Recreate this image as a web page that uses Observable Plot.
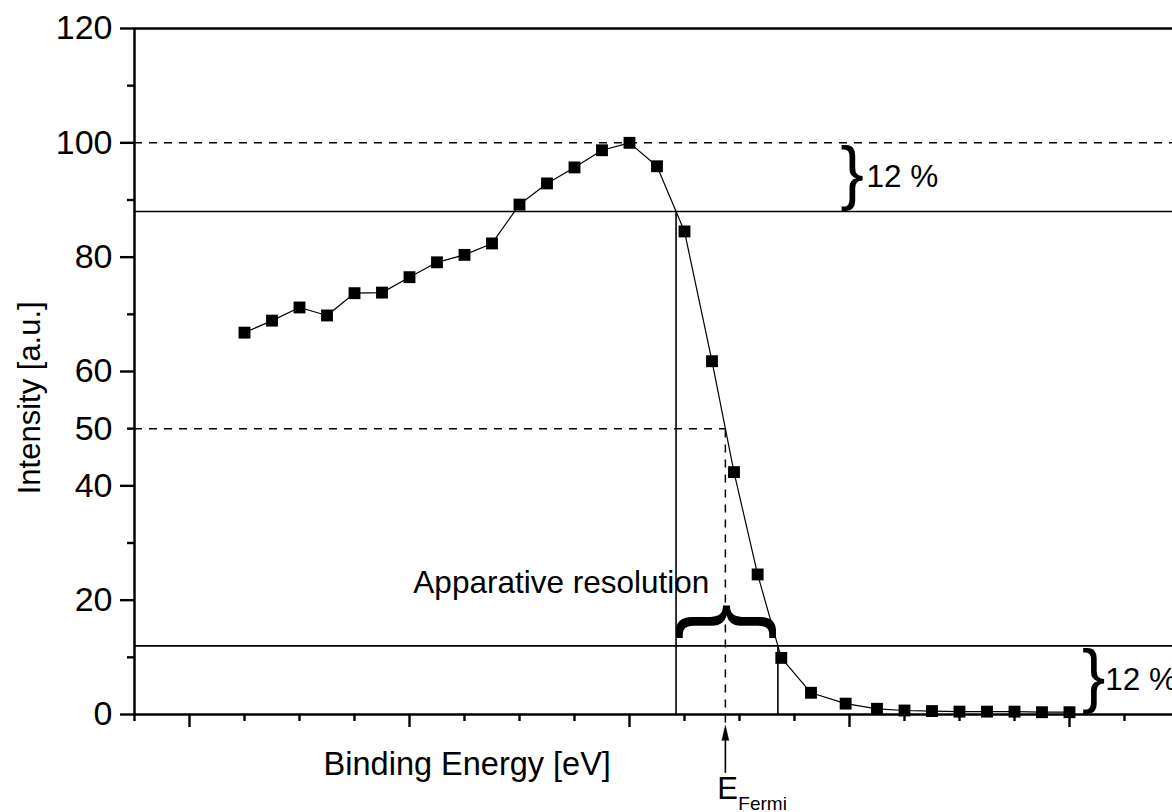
<!DOCTYPE html>
<html>
<head>
<meta charset="utf-8">
<script src="https://cdn.jsdelivr.net/npm/d3@7"></script>
<script src="https://cdn.jsdelivr.net/npm/@observablehq/plot@0.6"></script>
<style>
  html, body { margin: 0; padding: 0; background: #fff; }
  #chart svg { display: block; }
</style>
</head>
<body>
<div id="chart"></div>
<script>
// ---- data ----
const energy = [2, 2.5, 3, 3.5, 4, 4.5, 5, 5.5, 6, 6.5, 7, 7.5, 8, 8.5, 9, 9.5, 10, 10.5, 10.9, 11.33, 11.76, 12.3, 12.93, 13.5, 14, 14.5, 15, 15.5, 16, 16.5, 17];
const intensity = [66.8, 68.9, 71.2, 69.8, 73.7, 73.8, 76.5, 79.1, 80.4, 82.4, 89.2, 92.9, 95.7, 98.7, 100, 95.9, 84.5, 61.8, 42.4, 24.5, 9.9, 3.8, 1.9, 1.0, 0.7, 0.6, 0.5, 0.5, 0.5, 0.4, 0.4];

// ---- axes ----
const yMajorTicks = [0, 20, 40, 60, 80, 100, 120];
const yMinorTicks = [10, 30, 70, 90, 110];
const yExtraLabelTicks = [50];
const xMajorTicks = [1, 5, 9, 13, 17];
const xMinorTicks = [0, 2, 3, 4, 6, 7, 8, 10, 11, 12, 14, 15, 16, 18];
const xDomain = [0, 18.873];
const yDomain = [0, 120];

// ---- annotation levels ----
const peakLevel = 100;
const upperLevel = 88;
const halfLevel = 50;
const lowerLevel = 12;
const percentLabel = "12 %";
const resolutionLabel = "Apparative resolution";
const xTitle = "Binding Energy [eV]";
const yTitle = "Intensity [a.u.]";
const fermiMain = "E";
const fermiSub = "Fermi";

const data = energy.map((e, i) => ({e, v: intensity[i]}));

// crossing of the falling edge with a given level (linear interpolation)
const peakIndex = d3.maxIndex(intensity);
function crossing(level) {
  for (let i = peakIndex; i < intensity.length - 1; i++) {
    const a = intensity[i], b = intensity[i + 1];
    if (a >= level && b < level) {
      return energy[i] + (a - level) / (a - b) * (energy[i + 1] - energy[i]);
    }
  }
  return energy[peakIndex];
}
const xUpper = crossing(upperLevel);
const xHalf = crossing(halfLevel);
const xLower = crossing(lowerLevel);

const dash = "8,7";
const font = "'Liberation Sans', Arial, Helvetica, sans-serif";

const chart = Plot.plot({
  width: 1172,
  height: 812,
  marginLeft: 134,
  marginRight: 0,
  marginTop: 28,
  marginBottom: 98,
  x: {domain: xDomain},
  y: {domain: yDomain},
  style: {fontFamily: font, background: "#fff", color: "#000", overflow: "visible"},
  marks: [
    // reference levels
    Plot.ruleY([{y: peakLevel}], {y: "y", stroke: "#000", strokeWidth: 1.5, strokeDasharray: dash}),
    Plot.ruleY([{y: upperLevel}], {y: "y", stroke: "#000", strokeWidth: 1.6}),
    Plot.ruleY([{y: lowerLevel}], {y: "y", stroke: "#000", strokeWidth: 1.6}),
    Plot.ruleY([{y: halfLevel, x1: 0, x2: xHalf}], {y: "y", x1: "x1", x2: "x2", stroke: "#000", strokeWidth: 1.5, strokeDasharray: dash}),
    Plot.ruleX([{x: xHalf, y1: -1.5, y2: halfLevel}], {x: "x", y1: "y1", y2: "y2", stroke: "#000", strokeWidth: 1.5, strokeDasharray: dash}),
    Plot.ruleX([{x: xUpper, y1: 0, y2: upperLevel}, {x: xLower, y1: 0, y2: lowerLevel}], {x: "x", y1: "y1", y2: "y2", stroke: "#000", strokeWidth: 1.6}),

    // frame lines
    Plot.ruleX([{x: 0}], {x: "x", y1: () => yDomain[0], y2: () => yDomain[1], stroke: "#000", strokeWidth: 2.5}),
    Plot.ruleY([{y: yDomain[0]}, {y: yDomain[1]}], {y: "y", stroke: "#000", strokeWidth: 2.5}),

    // axes
    Plot.axisY(yMajorTicks, {anchor: "left", tickSize: 14, tickPadding: 8, fontSize: 34, strokeWidth: 2.4, label: null}),
    Plot.axisY(yMinorTicks, {anchor: "left", tickSize: 7, tickFormat: () => "", strokeWidth: 2.4, label: null}),
    Plot.axisY(yExtraLabelTicks, {anchor: "left", tickSize: 7, tickPadding: 15, fontSize: 34, strokeWidth: 2.4, label: null}),
    Plot.axisX(xMajorTicks, {anchor: "bottom", tickSize: 13, tickFormat: () => "", strokeWidth: 2.4, label: null}),
    Plot.axisX(xMinorTicks, {anchor: "bottom", tickSize: 7, tickFormat: () => "", strokeWidth: 2.4, label: null}),

    // data
    Plot.line(data, {x: "e", y: "v", stroke: "#000", strokeWidth: 1.2}),
    Plot.dot(data, {x: "e", y: "v", symbol: "square", r: 6.7, fill: "#000", stroke: null}),

    // braces + labels
    Plot.text([{x: 13.05, y: (peakLevel + upperLevel) / 2}], {x: "x", y: "y", text: () => "}", fontSize: 70, dy: -4, fill: "#000"}),
    Plot.text([{x: 13.31, y: (peakLevel + upperLevel) / 2}], {x: "x", y: "y", text: () => percentLabel, textAnchor: "start", fontSize: 31.5, fill: "#000"}),
    Plot.text([{x: 17.44, y: lowerLevel / 2}], {x: "x", y: "y", text: () => "}", fontSize: 70, dy: -4, fill: "#000"}),
    Plot.text([{x: 17.65, y: lowerLevel / 2}], {x: "x", y: "y", text: () => percentLabel, textAnchor: "start", fontSize: 31.5, fill: "#000"}),
    Plot.text([{x: (xUpper + xLower) / 2, y: 16.2}], {x: "x", y: "y", text: () => "{", rotate: 90, fontSize: 108, dx: 6, fill: "#000"}),
    Plot.text([{x: 5.07, y: 23.1}], {x: "x", y: "y", text: () => resolutionLabel, textAnchor: "start", fontSize: 31.5, fill: "#000"}),

    // E_Fermi arrow and label
    Plot.ruleX([{x: xHalf, y1: -10.3, y2: -4.2}], {x: "x", y1: "y1", y2: "y2", stroke: "#000", strokeWidth: 1.6}),
    Plot.vector([{x: xHalf, y: -4.55}], {x: "x", y: "y", length: 15, shape: "spike", r: 3.5, anchor: "start", fill: "#000", stroke: "#000", strokeWidth: 0.5}),
    Plot.text([{x: xHalf, y: -13.1}], {x: "x", y: "y", text: () => fermiMain, textAnchor: "start", dx: -8, fontSize: 31, fill: "#000"}),
    Plot.text([{x: xHalf, y: -15.7}], {x: "x", y: "y", text: () => fermiSub, textAnchor: "start", dx: 13, fontSize: 19, fill: "#000"}),

    // axis titles
    Plot.text([{x: 6.05, y: -8.8}], {x: "x", y: "y", text: () => xTitle, fontSize: 32.5, fill: "#000"}),
    Plot.text([{x: 0, y: 55.4}], {x: "x", y: "y", text: () => yTitle, rotate: -90, dx: -104, fontSize: 31, fill: "#000"})
  ]
});

document.getElementById("chart").appendChild(chart);
</script>
</body>
</html>
